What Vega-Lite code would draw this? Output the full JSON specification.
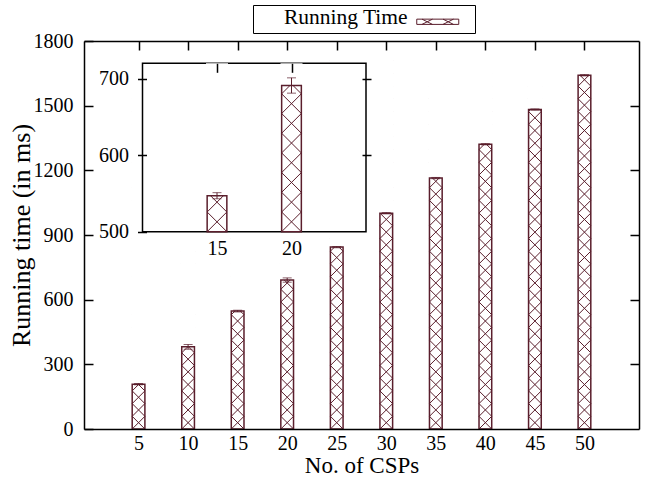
{
  "$schema": "https://vega.github.io/schema/vega-lite/v6.json",
  "width": 555,
  "height": 388,
  "autosize": "none",
  "padding": {"left": 84, "top": 41, "right": 7, "bottom": 52},
  "background": "white",
  "config": {
    "view": {"stroke": null},
    "font": "Liberation Serif",
    "axis": {
      "grid": false,
      "labelFont": "Liberation Serif",
      "labelFontSize": 20,
      "labelColor": "black",
      "titleFont": "Liberation Serif",
      "titleFontSize": 23,
      "titleFontWeight": "normal",
      "titleColor": "black",
      "domainColor": "black",
      "domainWidth": 1.5,
      "tickColor": "black",
      "tickWidth": 1.5
    }
  },
  "datasets": {
    "runs": [
      {"n": 5, "t": 208, "e": 3},
      {"n": 10, "t": 381, "e": 11},
      {"n": 15, "t": 547, "e": 4},
      {"n": 20, "t": 691, "e": 10},
      {"n": 25, "t": 844, "e": 3},
      {"n": 30, "t": 1001, "e": 3},
      {"n": 35, "t": 1164, "e": 3},
      {"n": 40, "t": 1321, "e": 3},
      {"n": 45, "t": 1482, "e": 3},
      {"n": 50, "t": 1641, "e": 3}
    ]
  },
  "layer": [
    {
      "data": {"name": "runs"},
      "resolve": {"axis": {"x": "independent", "y": "independent"}},
      "layer": [
        {
          "mark": {"type": "point", "filled": false, "opacity": 1, "stroke": "#5a1e2c", "strokeWidth": 1, "size": 161.3,
            "shape": "M-1,0L1,-2L-1,-4L1,-6L-1,-8L1,-10L-1,-12L1,-14L-1,-16L1,-18L-1,-20L1,-22L-1,-24L1,-26L-1,-28L1,-30L-1,-32L1,-34L-1,-36L1,-38L-1,-40L1,-42L-1,-44L1,-46L-1,-48L1,-50L-1,-52L1,-54L-1,-56L1,-58M1,0L-1,-2L1,-4L-1,-6L1,-8L-1,-10L1,-12L-1,-14L1,-16L-1,-18L1,-20L-1,-22L1,-24L-1,-26L1,-28L-1,-30L1,-32L-1,-34L1,-36L-1,-38L1,-40L-1,-42L1,-44L-1,-46L1,-48L-1,-50L1,-52L-1,-54L1,-56L-1,-58"},
          "encoding": {
            "x": {"field": "n", "type": "quantitative", "scale": {"domain": [0, 55], "nice": false, "zero": false}, "axis": null},
            "y": {"datum": 0, "type": "quantitative", "scale": {"domain": [0, 1800], "nice": false, "zero": false}, "axis": null}
          }
        },
        {
          "mark": {"type": "bar", "fill": "white", "strokeWidth": 0, "size": 15},
          "encoding": {
            "x": {"field": "n", "type": "quantitative", "scale": {"domain": [0, 55], "nice": false, "zero": false},
              "axis": {"orient": "top", "zindex": 2, "values": [5, 10, 15, 20, 25, 30, 35, 40, 45, 50], "tickSize": -9, "labels": false, "title": null}},
            "y": {"field": "t", "type": "quantitative", "scale": {"domain": [0, 1800], "nice": false, "zero": false},
              "axis": {"orient": "right", "zindex": 2, "values": [300, 600, 900, 1200, 1500], "tickSize": -9, "labels": false, "title": null}},
            "y2": {"datum": 1800}
          }
        },
        {
          "mark": {"type": "bar", "fill": "transparent", "strokeWidth": 1.5, "size": 12.7},
          "encoding": {
            "x": {"field": "n", "type": "quantitative", "scale": {"domain": [0, 55], "nice": false, "zero": false},
              "axis": {"orient": "bottom", "zindex": 2, "values": [5, 10, 15, 20, 25, 30, 35, 40, 45, 50], "ticks": false, "tickSize": 0, "labelPadding": 4, "title": "No. of CSPs", "titlePadding": 1}},
            "y": {"field": "t", "type": "quantitative", "scale": {"domain": [0, 1800], "nice": false, "zero": false},
              "axis": {"orient": "left", "zindex": 2, "format": "d", "values": [0, 300, 600, 900, 1200, 1500, 1800], "tickSize": -9, "labelPadding": 20, "title": "Running time (in ms)", "titleFontSize": 26, "titlePadding": -1}},
            "stroke": {"datum": "Running Time", "type": "nominal", "scale": {"range": ["#5a1e2c"]},
              "legend": {
                "orient": "none", "legendX": 169, "legendY": -36,
                "title": "\u200b\u00a0\u00a0\u00a0\u00a0\u00a0Running Time",
                "titleOrient": "left",
                "titleFont": "Liberation Serif", "titleFontSize": 21.5, "titleFontWeight": "normal", "titleColor": "black",
                "titlePadding": 9,
                "labelExpr": "''", "labelOffset": 4, "labelFontSize": 1,
                "symbolType": "M-1.19,0.79H6.81V1.79H-1.19ZM-0.19,0.79L1.81,1.79M-0.19,1.79L1.81,0.79M3.81,0.79L5.81,1.79M3.81,1.79L5.81,0.79M8.6,1.29L8.6,1.29",
                "symbolSize": 110.25, "symbolStrokeWidth": 1, "symbolStrokeColor": "#5a1e2c", "symbolFillColor": "white",
                "strokeColor": "black", "padding": 4
              }}
          }
        },
        {
          "mark": {"type": "errorbar", "color": "#5a1e2c", "thickness": 1, "ticks": {"size": 9, "thickness": 1, "color": "#5a1e2c"}},
          "encoding": {
            "x": {"field": "n", "type": "quantitative", "scale": {"domain": [0, 55], "nice": false, "zero": false}, "axis": null},
            "y": {"field": "t", "type": "quantitative", "scale": {"domain": [0, 1800], "nice": false, "zero": false}, "axis": null},
            "yError": {"field": "e"}
          }
        }
      ]
    },
    {
      "resolve": {"axis": {"x": "independent", "y": "independent"}},
      "layer": [
        {
          "data": {"values": [{}]},
          "mark": {"type": "rect", "fill": "white", "stroke": "black", "strokeWidth": 1.5},
          "encoding": {
            "x": {"datum": 10, "type": "quantitative", "scale": {"domain": [10, 25], "range": [53.5, 287], "nice": false, "zero": false}, "axis": null},
            "x2": {"datum": 25},
            "y": {"datum": 500, "type": "quantitative", "scale": {"domain": [500, 720], "range": [190.7, 22.3], "nice": false, "zero": false}, "axis": null},
            "y2": {"datum": 720}
          }
        },
        {
          "data": {"name": "runs"},
          "transform": [{"filter": "datum.n == 15 || datum.n == 20"}],
          "mark": {"type": "point", "filled": false, "opacity": 1, "stroke": "#5a1e2c", "strokeWidth": 1, "size": 388,
            "shape": "M-1,0L1,-2L-1,-4L1,-6L-1,-8L1,-10L-1,-12L1,-14L-1,-16M1,0L-1,-2L1,-4L-1,-6L1,-8L-1,-10L1,-12L-1,-14L1,-16"},
          "encoding": {
            "x": {"field": "n", "type": "quantitative", "scale": {"domain": [10, 25], "range": [53.5, 287], "nice": false, "zero": false}, "axis": null},
            "y": {"datum": 500, "type": "quantitative", "scale": {"domain": [500, 720], "range": [190.7, 22.3], "nice": false, "zero": false}, "axis": null}
          }
        },
        {
          "data": {"name": "runs"},
          "transform": [{"filter": "datum.n == 15 || datum.n == 20"}],
          "mark": {"type": "bar", "fill": "white", "strokeWidth": 0, "size": 22},
          "encoding": {
            "x": {"field": "n", "type": "quantitative", "scale": {"domain": [10, 25], "range": [53.5, 287], "nice": false, "zero": false},
              "axis": {"orient": "top", "zindex": 2, "offset": -22.3, "values": [15, 20], "tickSize": -9, "labels": false, "domain": false, "title": null}},
            "y": {"field": "t", "type": "quantitative", "scale": {"domain": [500, 720], "range": [190.7, 22.3], "nice": false, "zero": false},
              "axis": {"orient": "right", "zindex": 2, "offset": -268, "values": [600, 700], "tickSize": -9, "labels": false, "domain": false, "title": null}},
            "y2": {"datum": 720}
          }
        },
        {
          "data": {"name": "runs"},
          "transform": [{"filter": "datum.n == 15 || datum.n == 20"}],
          "mark": {"type": "bar", "fill": "transparent", "stroke": "#5a1e2c", "strokeWidth": 1.5, "size": 19.7},
          "encoding": {
            "x": {"field": "n", "type": "quantitative", "scale": {"domain": [10, 25], "range": [53.5, 287], "nice": false, "zero": false},
              "axis": {"orient": "bottom", "zindex": 2, "offset": -197.3, "values": [15, 20], "ticks": false, "tickSize": 0, "labelPadding": 7, "domain": false, "title": null}},
            "y": {"field": "t", "type": "quantitative", "scale": {"domain": [500, 720], "range": [190.7, 22.3], "nice": false, "zero": false},
              "axis": {"orient": "left", "zindex": 2, "offset": -53.5, "values": [500, 600, 700], "tickSize": -9, "labelPadding": 18, "domain": false, "title": null}},
            "y2": {"datum": 500}
          }
        },
        {
          "data": {"name": "runs"},
          "transform": [{"filter": "datum.n == 15 || datum.n == 20"}],
          "mark": {"type": "errorbar", "color": "#5a1e2c", "thickness": 1, "ticks": {"size": 9, "thickness": 1, "color": "#5a1e2c"}},
          "encoding": {
            "x": {"field": "n", "type": "quantitative", "scale": {"domain": [10, 25], "range": [53.5, 287], "nice": false, "zero": false}, "axis": null},
            "y": {"field": "t", "type": "quantitative", "scale": {"domain": [500, 720], "range": [190.7, 22.3], "nice": false, "zero": false}, "axis": null},
            "yError": {"field": "e"}
          }
        }
      ]
    }
  ],
  "resolve": {"scale": {"x": "independent", "y": "independent", "stroke": "independent"}}
}
